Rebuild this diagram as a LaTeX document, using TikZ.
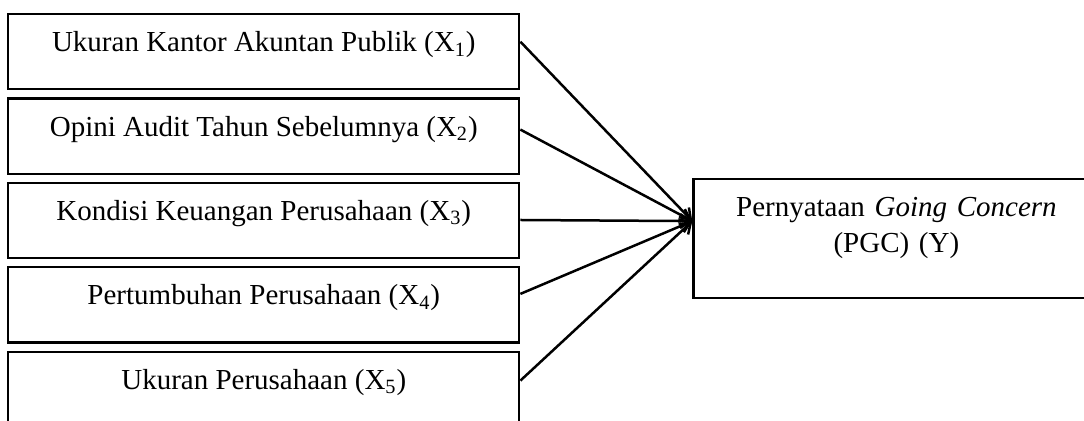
\documentclass[tikz,border=0pt]{standalone}
\usepackage{fontspec}
\setmainfont{Liberation Serif}
\usetikzlibrary{positioning,arrows.meta}

\begin{document}
\begin{tikzpicture}[
  x = 0.5pt, y = -0.5pt,
  every node/.style = {font=\fontsize{14.5}{18}\selectfont},
  var/.style = {draw, line width=1.1pt, minimum width=255.5pt, inner sep=0pt,
                text height=18.8pt, text depth=18.8pt},
  dep/.style = {draw, line width=1.1pt, text width=203pt, align=center, inner sep=0pt,
                text height=18.65pt, text depth=40.85pt},
  link/.style = {line width=1.25pt, -{Straight Barb[length=5pt,width=7pt]}},
  node distance = 3.5pt
  ]
  \clip (0,0) rectangle (1084,421);
  \node[var] (x1) at (263.8,51.7) {Ukuran Kantor Akuntan Publik (X\textsubscript{1})};
  \node[var, below=of x1] (x2) {Opini Audit Tahun Sebelumnya (X\textsubscript{2})};
  \node[var, below=of x2] (x3) {Kondisi Keuangan Perusahaan (X\textsubscript{3})};
  \node[var, below=of x3] (x4) {Pertumbuhan Perusahaan (X\textsubscript{4})};
  \node[var, below=of x4] (x5) {Ukuran Perusahaan (X\textsubscript{5})};
  \node[dep, anchor=north west] (pgc) at (692.3,177.7)
       {Pernyataan \textit{Going Concern}\\ (PGC) (Y)};
  \coordinate (hub) at ([yshift=8.6pt]pgc.west);
  \foreach \i/\dy in {1/5, 2/3.25, 3/0.25, 4/5.5, 5/4.35}
    \draw[link] ([yshift=\dy pt]x\i.east) -- (hub);
\end{tikzpicture}
\end{document}
